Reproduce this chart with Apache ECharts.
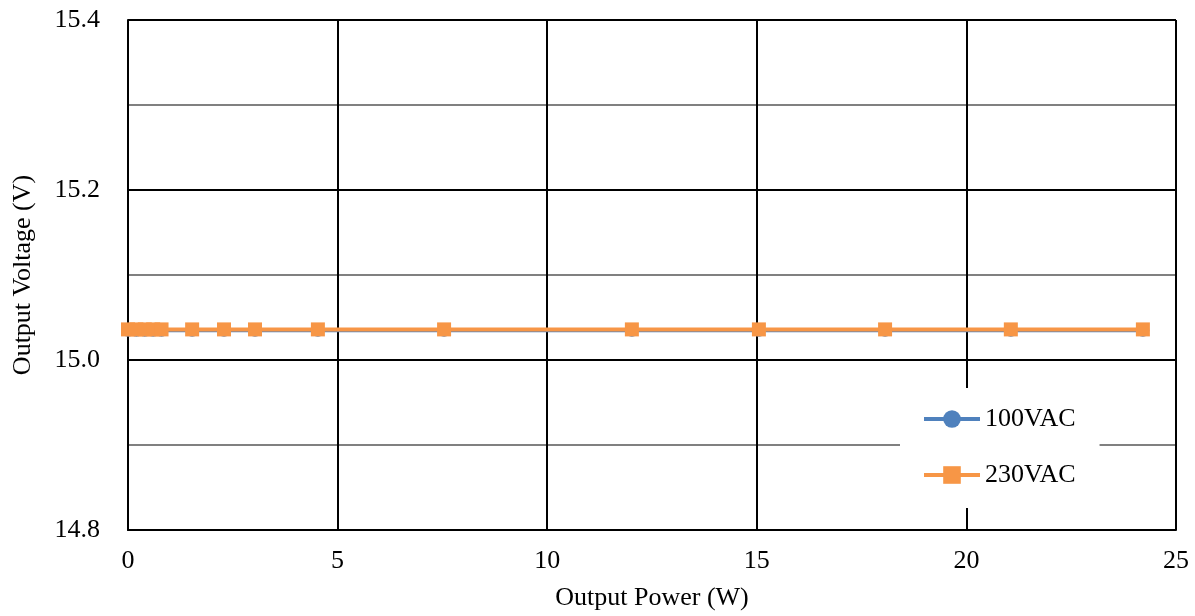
<!DOCTYPE html>
<html>
<head>
<meta charset="utf-8">
<script src="https://cdn.jsdelivr.net/npm/echarts@6/dist/echarts.min.js"></script>
<style>html,body{margin:0;padding:0;background:#fff;}#c{width:1195px;height:616px;}</style>
</head>
<body>
<div id="c"></div>
<script>
const xPower = [0, 0.2, 0.4, 0.6, 0.8, 1.53, 2.29, 3.03, 4.53, 7.54, 12.02, 15.05, 18.06, 21.06, 24.21];
const v100 = [15.035, 15.035, 15.035, 15.035, 15.035, 15.035, 15.035, 15.035, 15.035, 15.035, 15.035, 15.035, 15.035, 15.035, 15.035];
const v230 = [15.036, 15.036, 15.036, 15.036, 15.036, 15.036, 15.036, 15.036, 15.036, 15.036, 15.036, 15.036, 15.036, 15.036, 15.036];
const seriesNames = ['100VAC', '230VAC'];
const xTitle = 'Output Power (W)';
const yTitle = 'Output Voltage (V)';

const font = '"Liberation Serif", "Times New Roman", serif';
const chart = echarts.init(document.getElementById('c'), null, {renderer: 'canvas'});
const pairs = (ys) => xPower.map((x, i) => [x, ys[i]]);
chart.setOption({
  animation: false,
  backgroundColor: '#fff',
  grid: {left: 128, right: 19, top: 20, bottom: 84, containLabel: false},
  xAxis: {
    type: 'value', min: 0, max: 25, interval: 5,
    name: xTitle, nameLocation: 'middle', nameGap: 55,
    nameTextStyle: {fontFamily: font, fontSize: 26, color: '#000'},
    axisLine: {show: true, lineStyle: {color: '#000', width: 2}},
    axisTick: {show: false},
    axisLabel: {fontFamily: font, fontSize: 26, color: '#000', margin: 18},
    splitLine: {show: true, lineStyle: {color: '#000', width: 2}}
  },
  yAxis: {
    type: 'value', min: 14.8, max: 15.4, interval: 0.2,
    name: yTitle, nameLocation: 'middle', nameGap: 92, nameRotate: 90,
    nameTextStyle: {fontFamily: font, fontSize: 26, color: '#000'},
    axisLine: {show: true, lineStyle: {color: '#000', width: 2}},
    axisTick: {show: false},
    axisLabel: {fontFamily: font, fontSize: 26, color: '#000', margin: 28, formatter: v => v.toFixed(1)},
    splitLine: {show: true, lineStyle: {color: '#000', width: 2}},
    minorTick: {show: false, splitNumber: 2},
    minorSplitLine: {show: true, lineStyle: {color: '#808080', width: 2}}
  },
  legend: {
    orient: 'vertical', left: 900, top: 388,
    backgroundColor: '#fff', padding: [18, 24, 20, 22], itemGap: 30,
    itemWidth: 56, itemHeight: 22,
    lineStyle: {width: 4},
    textStyle: {fontFamily: font, fontSize: 26, color: '#000'},
    data: seriesNames
  },
  series: [
    {name: seriesNames[0], type: 'line', data: pairs(v100), symbol: 'circle', symbolSize: 13,
     lineStyle: {color: '#4F81BD', width: 4}, itemStyle: {color: '#4F81BD'}, z: 2},
    {name: seriesNames[1], type: 'line', data: pairs(v230), symbol: 'rect', symbolSize: 14,
     lineStyle: {color: '#F79646', width: 4}, itemStyle: {color: '#F79646'}, z: 3}
  ]
});
</script>
</body>
</html>
